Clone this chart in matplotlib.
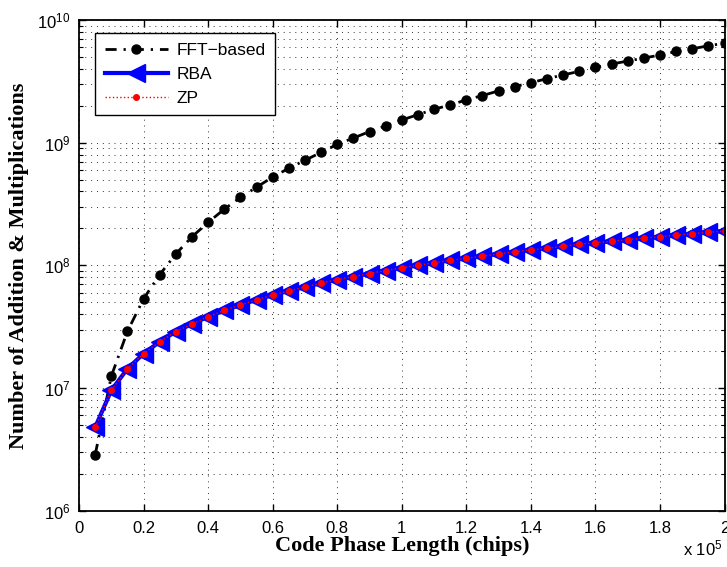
import matplotlib
matplotlib.use('Agg')
import matplotlib.pyplot as plt
from matplotlib.ticker import LogLocator, FixedLocator, FixedFormatter, NullFormatter

plt.rcParams['font.family'] = 'Liberation Sans'
plt.rcParams['mathtext.fontset'] = 'custom'
plt.rcParams['mathtext.rm'] = 'Liberation Sans'
plt.rcParams['mathtext.it'] = 'Liberation Sans'

# Datos (longitud de fase de codigo en chips)
code_len = [5000, 10000, 15000, 20000, 25000, 30000, 35000, 40000, 45000, 50000,
            55000, 60000, 65000, 70000, 75000, 80000, 85000, 90000, 95000, 100000,
            105000, 110000, 115000, 120000, 125000, 130000, 135000, 140000, 145000, 150000,
            155000, 160000, 165000, 170000, 175000, 180000, 185000, 190000, 195000, 200000]

fft_ops = [2.86e6, 1.25e7, 2.9e7, 5.35e7, 8.4e7, 1.24e8, 1.71e8, 2.24e8, 2.87e8, 3.58e8,
           4.33e8, 5.25e8, 6.18e8, 7.18e8, 8.33e8, 9.68e8, 1.09e9, 1.23e9, 1.37e9, 1.53e9,
           1.69e9, 1.87e9, 2.03e9, 2.23e9, 2.42e9, 2.64e9, 2.86e9, 3.08e9, 3.32e9, 3.56e9,
           3.81e9, 4.10e9, 4.37e9, 4.62e9, 4.89e9, 5.17e9, 5.53e9, 5.82e9, 6.15e9, 6.47e9]

rba_ops = [4.80e6, 9.59e6, 1.44e7, 1.91e7, 2.39e7, 2.89e7, 3.33e7, 3.82e7, 4.30e7, 4.75e7,
           5.25e7, 5.73e7, 6.21e7, 6.65e7, 7.17e7, 7.67e7, 8.11e7, 8.58e7, 9.08e7, 9.55e7,
           1.00e8, 1.05e8, 1.10e8, 1.14e8, 1.19e8, 1.24e8, 1.29e8, 1.34e8, 1.38e8, 1.43e8,
           1.49e8, 1.53e8, 1.57e8, 1.62e8, 1.67e8, 1.71e8, 1.77e8, 1.81e8, 1.86e8, 1.91e8]

zp_ops = [4.80e6, 9.59e6, 1.44e7, 1.91e7, 2.39e7, 2.89e7, 3.33e7, 3.82e7, 4.30e7, 4.75e7,
          5.25e7, 5.73e7, 6.21e7, 6.65e7, 7.17e7, 7.67e7, 8.11e7, 8.58e7, 9.08e7, 9.55e7,
          1.00e8, 1.05e8, 1.10e8, 1.14e8, 1.19e8, 1.24e8, 1.29e8, 1.34e8, 1.38e8, 1.43e8,
          1.49e8, 1.53e8, 1.57e8, 1.62e8, 1.67e8, 1.71e8, 1.77e8, 1.81e8, 1.86e8, 1.91e8]

x_ticks = [0, 20000, 40000, 60000, 80000, 100000, 120000, 140000, 160000, 180000, 200000]
x_tick_labels = ['0', '0.2', '0.4', '0.6', '0.8', '1', '1.2', '1.4', '1.6', '1.8', '2']

fig = plt.figure(figsize=(7.27, 5.67), dpi=100)
ax = fig.add_axes([0.1087, 0.099, 0.8879, 0.8659])

ax.semilogy(code_len, fft_ops, color='black', linestyle=(0, (4, 2.5, 0.8, 2.5)), linewidth=2,
            marker='o', markersize=6.5, markerfacecolor='black', markeredgecolor='black',
            label='FFT\u2212based')
ax.semilogy(code_len, rba_ops, color='blue', linestyle='-', linewidth=3,
            marker='<', markersize=13, markerfacecolor='blue', markeredgecolor='blue',
            label='RBA')
ax.semilogy(code_len, zp_ops, color='red', linestyle=':', linewidth=1,
            marker='o', markersize=4, markerfacecolor='red', markeredgecolor='red',
            label='ZP')

ax.set_xlim(0, 200000)
ax.set_ylim(1e6, 1e10)
ax.xaxis.set_major_locator(FixedLocator(x_ticks))
ax.xaxis.set_major_formatter(FixedFormatter(x_tick_labels))
ax.yaxis.set_major_locator(LogLocator(base=10, numticks=10))
ax.yaxis.set_minor_locator(LogLocator(base=10, subs=range(2, 10), numticks=20))
ax.yaxis.set_minor_formatter(NullFormatter())

ax.tick_params(which='both', direction='in', top=True, right=True, labelsize=12)
ax.tick_params(which='major', length=5, width=1)
ax.tick_params(which='minor', length=3, width=0.8)
ax.tick_params(axis='x', pad=7)
ax.tick_params(axis='y', pad=6)
for s in ax.spines.values():
    s.set_linewidth(1.3)

ax.grid(True, which='major', axis='both', linestyle=(0, (1, 5)), color='#333333', linewidth=0.7)
ax.grid(True, which='minor', axis='y', linestyle=(0, (1, 5)), color='#333333', linewidth=0.7)

ax.set_xlabel('Code Phase Length (chips)', fontfamily='Liberation Serif', fontweight='bold',
              fontsize=16, labelpad=0)
ax.set_ylabel('Number of Addition & Multiplications', fontfamily='Liberation Serif',
              fontweight='bold', fontsize=16, labelpad=6)

fig.text(0.994, 0.015, r'x 10$^5$', ha='right', va='bottom', fontsize=12)

leg = ax.legend(loc='upper left', bbox_to_anchor=(0.012, 0.99), fontsize=12.5,
                handlelength=3.6, fancybox=False, framealpha=1, edgecolor='black',
                borderpad=0.55, labelspacing=0.5, handletextpad=0.5)
leg.get_frame().set_linewidth(1)

fig.savefig('out.png', dpi=100)
